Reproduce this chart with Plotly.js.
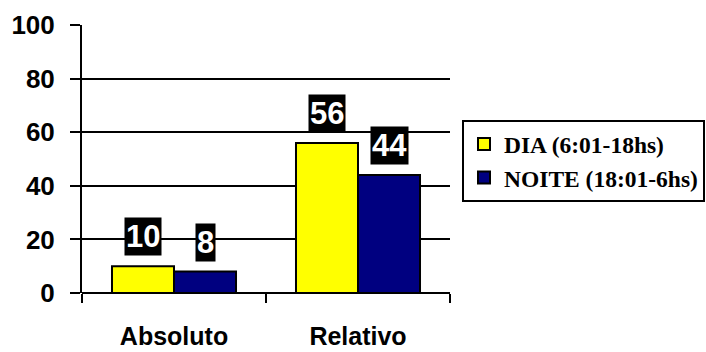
<!DOCTYPE html>
<html>
<head>
<meta charset="utf-8">
<script src="https://cdn.plot.ly/plotly-3.0.1.min.js"></script>
<style>
html,body{margin:0;padding:0;background:#fff;}
#chart{width:706px;height:352px;}
</style>
</head>
<body>
<div id="chart"></div>
<script>
var categories = ["Absoluto", "Relativo"];
var diaValues = [10, 56];
var noiteValues = [8, 44];
var seriesNames = ["DIA (6:01-18hs)", "NOITE (18:01-6hs)"];
var yTicks = [0, 20, 40, 60, 80, 100];

var seriesColors = ["#ffff00", "#000080"];
var seriesValues = [diaValues, noiteValues];

var traces = seriesValues.map(function (vals, i) {
  return {
    type: "bar",
    name: seriesNames[i],
    x: categories,
    y: vals,
    marker: {color: seriesColors[i], line: {color: "#000", width: 2}},
    hoverinfo: "none"
  };
});

var barPx = 62;
var annotations = [];
seriesValues.forEach(function (vals, i) {
  vals.forEach(function (v, j) {
    annotations.push({
      x: categories[j], y: v, xref: "x", yref: "y",
      text: String(v), showarrow: false,
      xanchor: "center", yanchor: "bottom",
      xshift: (i === 0 ? -1 : 1) * barPx / 2,
      yshift: 10,
      bgcolor: "#000", borderpad: 1,
      font: {family: "Liberation Sans, Arial, sans-serif", size: 31, color: "#fff", weight: "bold"}
    });
  });
});

var layout = {
  width: 706, height: 352,
  margin: {l: 82, r: 256, t: 25, b: 59, autoexpand: false},
  paper_bgcolor: "#fff", plot_bgcolor: "#fff",
  barmode: "group",
  bargap: 0.326, bargroupgap: 0,
  showlegend: true,
  legend: {
    x: 1.0326, y: 0.645, xanchor: "left", yanchor: "top",
    bordercolor: "#000", borderwidth: 2, bgcolor: "#fff",
    font: {family: "Liberation Serif, Times New Roman, serif", size: 23.5, color: "#000", weight: "bold"},
    tracegroupgap: 0, itemwidth: 30
  },
  xaxis: {
    type: "category",
    showline: false, showgrid: false, zeroline: false,
    ticks: "outside", tickson: "boundaries", ticklen: 9, tickwidth: 2, tickcolor: "#000",
    ticklabelstandoff: 26,
    tickfont: {family: "Liberation Sans, Arial, sans-serif", size: 25, color: "#000", weight: "bold"}
  },
  yaxis: {
    range: [0, 100], tickvals: yTicks, ticktext: yTicks.map(String),
    showline: true, linecolor: "#000", linewidth: 2,
    showgrid: true, gridcolor: "#000", gridwidth: 2,
    zeroline: true, zerolinecolor: "#000", zerolinewidth: 2,
    ticks: "outside", ticklen: 10, tickwidth: 2, tickcolor: "#000",
    ticklabelstandoff: 10,
    tickfont: {family: "Liberation Sans, Arial, sans-serif", size: 26, color: "#000", weight: "bold"},
    fixedrange: true
  },
  annotations: annotations
};

Plotly.newPlot("chart", traces, layout, {displayModeBar: false, staticPlot: true});
</script>
</body>
</html>
